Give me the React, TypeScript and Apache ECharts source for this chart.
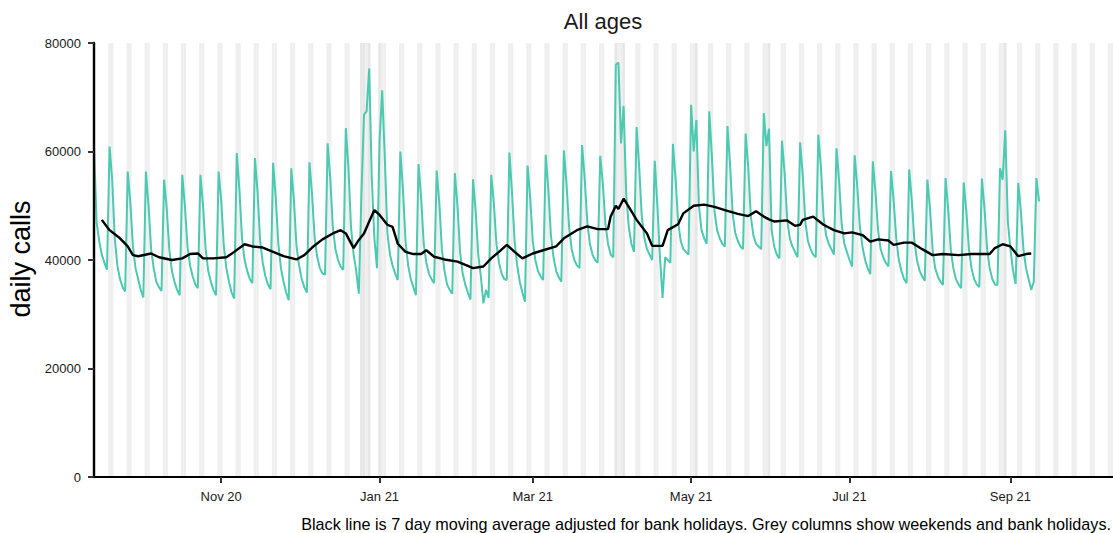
import React, { useEffect, useRef } from "react";
import * as echarts from "echarts";

// ---------- DATA ----------
const START_DATE = "2020-09-13"; // first day of daily series
const AXIS_START = "2020-09-13";
const AXIS_END = "2021-10-10T12:00:00Z";

// daily calls, one value per day from START_DATE (Sun 13 Sep 2020) to Sun 12 Sep 2021
const dailyCalls: number[] = [
  // Sep 13 - 18
  61000, 47000, 43500, 41000, 39500, 38200,
  // weeks starting Saturday
  60900, 54800, 44000, 39000, 36500, 35000, 34200, // Sep 19
  56300, 50500, 42500, 38500, 36500, 34500, 33100, // Sep 26
  56300, 50000, 42000, 38500, 36000, 35000, 34300, // Oct 3
  54800, 49500, 42000, 38000, 36000, 34500, 33500, // Oct 10
  55700, 50000, 42500, 39000, 37000, 35500, 34800, // Oct 17
  55700, 50000, 42000, 38000, 36000, 34500, 33500, // Oct 24
  56300, 51000, 42500, 38500, 36000, 34000, 32900, // Oct 31
  59700, 53000, 44000, 40000, 38000, 36500, 35700, // Nov 7
  58800, 52500, 43500, 39500, 37000, 35500, 34600, // Nov 14
  57900, 51500, 43000, 38500, 36000, 34000, 32600, // Nov 21
  56900, 51000, 42500, 39000, 36500, 35000, 34000, // Nov 28
  58000, 52000, 44000, 40500, 38500, 37500, 37300, // Dec 5
  61500, 55000, 46000, 42000, 40000, 38800, 38200, // Dec 12
  64300, 57000, 46000, 41000, 38000, 33800, 52000, // Dec 19
  66800, 67400, 75300, 55000, 44000, 38500, 62000, // Dec 26
  71300, 59000, 45000, 41000, 39000, 37500, 36300, // Jan 2
  60000, 53000, 43500, 39000, 36500, 35000, 33500, // Jan 9
  57700, 51500, 43000, 39500, 37500, 36500, 35700, // Jan 16
  56500, 50500, 42000, 38000, 35500, 34500, 33800, // Jan 23
  56000, 50000, 41500, 37500, 35500, 34000, 32700, // Jan 30
  54900, 49000, 41000, 37000, 32000, 34500, 33000, // Feb 6
  55700, 50500, 43000, 39500, 37500, 36500, 36300, // Feb 13
  59800, 52500, 43500, 39000, 36000, 34000, 32300, // Feb 20
  57400, 51500, 43500, 40000, 38000, 37000, 36300, // Feb 27
  59400, 53000, 44500, 40500, 38000, 36800, 36000, // Mar 6
  60200, 54000, 46000, 42000, 40000, 39000, 38500, // Mar 13
  61200, 55000, 47000, 43000, 41000, 40000, 39500, // Mar 20
  59200, 54000, 46500, 43000, 41000, 40500, 76000, // Mar 27
  76400, 61500, 68400, 52000, 46000, 43000, 41500, // Apr 3
  64500, 57000, 48000, 44000, 42000, 41000, 40000, // Apr 10
  58300, 50000, 40500, 33000, 40500, 40000, 39500, // Apr 17
  61400, 55000, 47000, 43500, 42000, 41500, 41000, // Apr 24
  68600, 60000, 65800, 50000, 45500, 44000, 43000, // May 1
  67400, 59000, 49000, 45500, 44000, 43000, 42500, // May 8
  64700, 57500, 48500, 45000, 43500, 42500, 42000, // May 15
  63300, 57000, 48000, 44500, 43000, 42500, 42000, // May 22
  67100, 61000, 64200, 45500, 42500, 41000, 40300, // May 29
  62000, 56000, 47500, 44000, 42500, 41500, 40500, // Jun 5
  61700, 55500, 47000, 43500, 42000, 41000, 40500, // Jun 12
  63100, 57000, 48000, 44500, 43000, 42000, 41000, // Jun 19
  60600, 54500, 46500, 43000, 41500, 40000, 38800, // Jun 26
  59300, 53500, 46000, 42500, 40000, 38500, 37400, // Jul 3
  58200, 52500, 45500, 42000, 40500, 39500, 38800, // Jul 10
  56400, 51000, 44000, 40000, 38000, 36500, 35700, // Jul 17
  56700, 51000, 43500, 40000, 38000, 37000, 36200, // Jul 24
  54800, 49500, 42000, 38500, 37000, 36000, 35400, // Jul 31
  55100, 49500, 42000, 38500, 36500, 35500, 34800, // Aug 7
  54300, 49000, 42000, 38500, 36500, 35500, 35000, // Aug 14
  55000, 49500, 42000, 38500, 36500, 35500, 35400, // Aug 21
  56900, 54800, 63900, 47000, 42000, 38000, 35600, // Aug 28
  54200, 49000, 42000, 38500, 36500, 34500, 36000, // Sep 4
  55100, 50800, // Sep 11 - 12
];

// 7 day moving average (adjusted for bank holidays)
const maDates: string[] = [
  "2020-09-16", "2020-09-19", "2020-09-23", "2020-09-26", "2020-09-28", "2020-09-30",
  "2020-10-05", "2020-10-08", "2020-10-13", "2020-10-17", "2020-10-20", "2020-10-23",
  "2020-10-25", "2020-10-29", "2020-11-03", "2020-11-06", "2020-11-10", "2020-11-13",
  "2020-11-17", "2020-11-21", "2020-11-25", "2020-11-30", "2020-12-03", "2020-12-06",
  "2020-12-10", "2020-12-14", "2020-12-17", "2020-12-19", "2020-12-22", "2020-12-24",
  "2020-12-26", "2020-12-28", "2020-12-30", "2021-01-01", "2021-01-04", "2021-01-06",
  "2021-01-08", "2021-01-11", "2021-01-14", "2021-01-17", "2021-01-19", "2021-01-22",
  "2021-01-26", "2021-01-31", "2021-02-04", "2021-02-06", "2021-02-10", "2021-02-13",
  "2021-02-16", "2021-02-19", "2021-02-22", "2021-02-25", "2021-03-01", "2021-03-05",
  "2021-03-10", "2021-03-13", "2021-03-18", "2021-03-22", "2021-03-26", "2021-03-30",
  "2021-03-31", "2021-04-02", "2021-04-03", "2021-04-05", "2021-04-07", "2021-04-10",
  "2021-04-14", "2021-04-16", "2021-04-20", "2021-04-22", "2021-04-26", "2021-04-28",
  "2021-05-02", "2021-05-06", "2021-05-10", "2021-05-14", "2021-05-19", "2021-05-23",
  "2021-05-26", "2021-05-29", "2021-05-31", "2021-06-02", "2021-06-07", "2021-06-10",
  "2021-06-12", "2021-06-13", "2021-06-17", "2021-06-21", "2021-06-25", "2021-06-29",
  "2021-07-02", "2021-07-06", "2021-07-09", "2021-07-12", "2021-07-16", "2021-07-18",
  "2021-07-22", "2021-07-25", "2021-07-29", "2021-08-02", "2021-08-06", "2021-08-12",
  "2021-08-17", "2021-08-24", "2021-08-26", "2021-08-29", "2021-09-01", "2021-09-04",
  "2021-09-07", "2021-09-09",
];
const maValues: number[] = [
  47400, 45500, 44000, 42500, 40900, 40700,
  41200, 40500, 40000, 40300, 41100, 41200,
  40300, 40300, 40500, 41500, 42900, 42500,
  42300, 41500, 40700, 40100, 40900, 42300,
  43800, 44900, 45500, 44900, 42200, 43700,
  44900, 47100, 49200, 48300, 46500, 46100,
  43000, 41500, 41100, 41100, 41800, 40600,
  40100, 39700, 38900, 38500, 38800, 40300,
  41500, 42800, 41500, 40300, 41200, 41800,
  42500, 44000, 45500, 46200, 45700, 45700,
  48000, 50000, 49400, 51300, 49800, 47400,
  44900, 42600, 42600, 45500, 46600, 48600,
  50000, 50200, 49800, 49200, 48500, 48100,
  49000, 48000, 47500, 47100, 47300, 46300,
  46500, 47400, 48000, 46500, 45500, 44900,
  45100, 44600, 43400, 43800, 43600, 42800,
  43200, 43200, 42000, 40900, 41100, 40900,
  41100, 41100, 42200, 42900, 42500, 40700,
  41100, 41200,
];

const bankHolidays: string[] = [
  "2020-12-25", "2020-12-26", "2020-12-28", "2021-01-01",
  "2021-04-02", "2021-04-05", "2021-05-03", "2021-05-31", "2021-08-30",
];

const xTickDates: string[] = ["2020-11-01", "2021-01-01", "2021-03-01", "2021-05-01", "2021-07-01", "2021-09-01"];
const xTickLabels: string[] = ["Nov 20", "Jan 21", "Mar 21", "May 21", "Jul 21", "Sep 21"];

const Y_MIN = 0;
const Y_MAX = 80000;
const Y_STEP = 20000;

const TITLE = "All ages";
const Y_TITLE = "daily calls";
const CAPTION =
  "Black line is 7 day moving average adjusted for bank holidays. Grey columns show weekends and bank holidays.";

// ---------- BUILD ----------
const DAY = 86400000;
const ts = (s: string) => Date.parse(s.length === 10 ? s + "T00:00:00Z" : s);
const FONT = "'Liberation Sans', Arial, Helvetica, sans-serif";

function buildOption() {
  const t0 = ts(START_DATE);
  const axisMin = ts(AXIS_START);
  const axisMax = ts(AXIS_END);
  const daily = dailyCalls.map((v, i) => [t0 + i * DAY, v]);
  const ma = maDates.map((d, i) => [ts(d), maValues[i]]);
  const hol = new Set(bankHolidays.map(ts));

  // grey columns: one per weekend day / bank holiday
  const cols: number[][] = [];
  for (let t = axisMin; t <= axisMax; t += DAY) {
    const dow = new Date(t).getUTCDay();
    const isHol = hol.has(t);
    if (dow === 0 || dow === 6 || isHol) {
      cols.push([t - DAY / 2, t + DAY / 2, isHol ? 1 : 0]);
    }
  }
  const tickTs = xTickDates.map(ts);

  return {
    animation: false,
    backgroundColor: "#ffffff",
    textStyle: { fontFamily: FONT },
    grid: { left: 94, right: 0, top: 43, bottom: 56, containLabel: false },
    xAxis: {
      type: "value",
      z: 10,
      min: axisMin,
      max: axisMax,
      axisLine: { show: true, lineStyle: { color: "#000", width: 2.2 } },
      axisTick: { show: true, customValues: tickTs, length: 6, lineStyle: { color: "#333", width: 2 } },
      axisLabel: {
        customValues: tickTs,
        fontSize: 13,
        color: "#1a1a1a",
        margin: 13,
        fontFamily: FONT,
        formatter: (v: number) => {
          let best = 0;
          tickTs.forEach((t, i) => {
            if (Math.abs(t - v) < Math.abs(tickTs[best] - v)) best = i;
          });
          return xTickLabels[best];
        },
      },
      splitLine: { show: false },
    },
    yAxis: {
      type: "value",
      z: 10,
      min: Y_MIN,
      max: Y_MAX,
      interval: Y_STEP,
      axisLine: { show: true, lineStyle: { color: "#000", width: 2.4 } },
      axisTick: { show: true, length: 6, lineStyle: { color: "#333", width: 2 } },
      axisLabel: { fontSize: 13, color: "#1a1a1a", margin: 13, fontFamily: FONT, formatter: (v: number) => String(v) },
      splitLine: { show: false },
    },
    graphic: [
      {
        type: "text",
        x: 603,
        y: 21,
        style: { text: TITLE, fontSize: 22, fontFamily: FONT, fill: "#1a1a1a", align: "center", verticalAlign: "middle" },
      },
      {
        type: "text",
        x: 21,
        y: 259,
        rotation: Math.PI / 2,
        style: { text: Y_TITLE, fontSize: 27, fontFamily: FONT, fill: "#000", align: "center", verticalAlign: "middle" },
      },
      {
        type: "text",
        x: 1111,
        y: 524,
        style: { text: CAPTION, fontSize: 16.2, fontFamily: FONT, fill: "#000", align: "right", verticalAlign: "middle" },
      },
    ],
    series: [
      {
        type: "custom",
        name: "columns",
        z: 1,
        silent: true,
        clip: true,
        encode: { x: [0, 1] },
        data: cols,
        renderItem: (params: any, api: any) => {
          const s = api.value(0);
          const e = api.value(1);
          const h = api.value(2);
          const p0 = api.coord([s, Y_MAX]);
          const p1 = api.coord([e, Y_MIN]);
          const cs = params.coordSys;
          const shape = echarts.graphic.clipRectByRect(
            { x: p0[0], y: p0[1], width: p1[0] - p0[0], height: p1[1] - p0[1] },
            { x: cs.x, y: cs.y, width: cs.width, height: cs.height }
          );
          if (!shape) return null;
          return { type: "rect", shape, style: { fill: h ? "#E6E6E6" : "#EFEFEF" } };
        },
      },
      {
        type: "line",
        name: "daily",
        z: 3,
        data: daily,
        showSymbol: false,
        symbol: "none",
        silent: true,
        lineStyle: { color: "#4CC9B0", width: 2 },
      },
      {
        type: "line",
        name: "ma",
        z: 4,
        data: ma,
        showSymbol: false,
        symbol: "none",
        silent: true,
        lineStyle: { color: "#000000", width: 2.4 },
      },
    ],
  };
}

export default function App() {
  const ref = useRef<HTMLDivElement>(null);
  useEffect(() => {
    if (!ref.current) return;
    const chart = echarts.init(ref.current, undefined, { renderer: "svg" });
    chart.setOption(buildOption() as any);
    return () => chart.dispose();
  }, []);
  return (
    <div
      ref={ref}
      style={{ position: "absolute", left: 0, top: 0, width: 1113, height: 533, background: "#fff" }}
    />
  );
}
